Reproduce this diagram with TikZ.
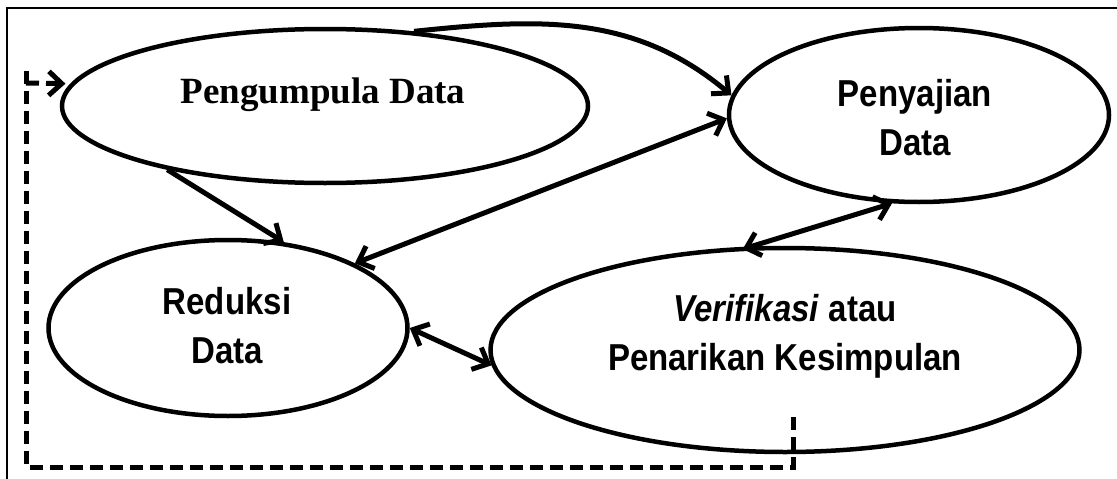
\documentclass[tikz,border=0pt]{standalone}
\usepackage{fontspec}
\setmainfont{Liberation Serif}
\newfontfamily\arialfont{Liberation Sans}[FakeStretch=0.88]
\usetikzlibrary{arrows.meta,shapes.geometric}

\begin{document}
\begin{tikzpicture}[x=1pt,y=1pt,
  oval/.style={ellipse, draw, line width=4.5pt, inner sep=0pt},
  lbl/.style={align=center, font=\arialfont\bfseries\fontsize{37.5}{49}\selectfont},
  arr/.style={line width=5pt, -{Straight Barb[length=13pt,width=24pt]}},
  dbl/.style={line width=5pt, {Straight Barb[length=13pt,width=24pt]}-{Straight Barb[length=13pt,width=24pt]}},
  fback/.style={line width=5pt, dash pattern=on 13pt off 7pt}]
\useasboundingbox (0,0) rectangle (1117,-479);
\draw[line width=2pt] (1117,-8) -- (7,-8) -- (7,-479);
% the four stages
\node[oval, minimum width=526pt, minimum height=154pt] (kumpul) at (325,-106) {};
\node[oval, minimum width=380pt, minimum height=174pt] (saji) at (919,-115) {};
\node[oval, minimum width=359pt, minimum height=176pt] (reduksi) at (228,-328) {};
\node[oval, minimum width=589pt, minimum height=204pt] (verif) at (785,-350) {};
\node[font=\bfseries\fontsize{37}{40}\selectfont] (kumpul-t) at (323,-94.5) {Pengumpula Data};
\node[lbl] (saji-t) at (915,-118) {Penyajian\\Data};
\node[lbl] (reduksi-t) at (227,-325.5) {Reduksi\\Data};
\node[lbl] (verif-t) at (785,-336.5) {\textit{Verifikasi} atau\\Penarikan Kesimpulan};
% links
\draw[arr] (kumpul.40) to[out=6,in=140] (saji.174);
\draw[arr] (kumpul.202) -- (reduksi.57);
\draw[dbl] (saji.181) -- (reduksi.27);
\draw[dbl] (reduksi.0) -- (verif.183);
\draw[dbl, shorten >=-9pt] (saji.253) -- (verif.108);
% loop back
\coordinate (fb) at (793,-417);
\coordinate (fbcorner) at (26,-467);
\coordinate (fbtop) at (26,-83);
\draw[fback] (fb) |- (fbcorner) -- ([yshift=14pt]fbtop);
\draw[fback, shorten >=5pt, -{Straight Barb[length=13pt,width=24pt]}] (fbtop) -- (kumpul.175);
\end{tikzpicture}
\end{document}
